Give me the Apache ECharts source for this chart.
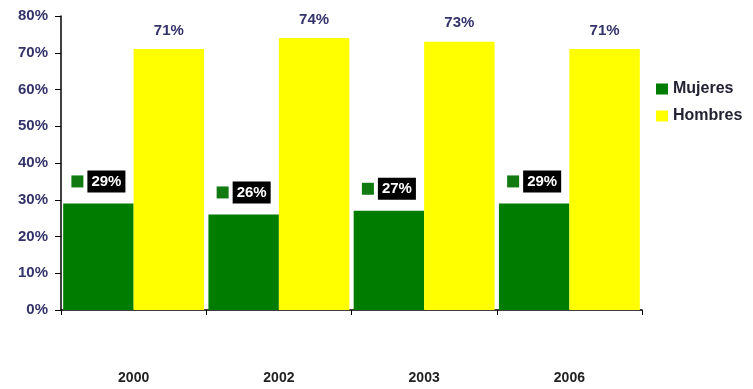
<!DOCTYPE html>
<html>
<head>
<meta charset="utf-8">
<script src="https://cdn.jsdelivr.net/npm/echarts@6/dist/echarts.min.js"></script>
<style>
  html, body { margin: 0; padding: 0; background: #fff; }
  #chart { width: 753px; height: 389px; }
</style>
</head>
<body>
<div id="chart"></div>
<script>
const years = ["2000", "2002", "2003", "2006"];
const mujeres = [29, 26, 27, 29];
const hombres = [71, 74, 73, 71];
const yTicks = [0, 10, 20, 30, 40, 50, 60, 70, 80];

const GREEN = "#007d00";
const YELLOW = "#ffff00";
const NAVY = "#33336b";
const font = "'Liberation Sans', Arial, sans-serif";

const chart = echarts.init(document.getElementById("chart"));

chart.setOption({
  backgroundColor: "#ffffff",
  animation: false,
  textStyle: { fontFamily: font },
  grid: { left: 61, right: 111, top: 16, bottom: 79 },
  legend: {
    orient: "vertical",
    left: 651,
    top: 76,
    itemWidth: 12,
    itemHeight: 11,
    itemGap: 11,
    icon: "rect",
    textStyle: { fontFamily: font, fontWeight: "bold", fontSize: 16, color: "#222233" },
    data: ["Mujeres", "Hombres"]
  },
  xAxis: {
    type: "category",
    data: years,
    axisLine: { lineStyle: { color: "#000", width: 1.5 } },
    axisTick: { show: true, alignWithLabel: false, length: 5, lineStyle: { color: "#000" } },
    axisLabel: { margin: 61, color: "#222", fontWeight: "bold", fontSize: 14, fontFamily: font }
  },
  yAxis: {
    type: "value",
    min: yTicks[0],
    max: yTicks[yTicks.length - 1],
    interval: 10,
    splitLine: { show: false },
    axisLine: { show: true, lineStyle: { color: "#000", width: 1.5 } },
    axisTick: { show: true, length: 6, lineStyle: { color: "#000" } },
    axisLabel: {
      margin: 13,
      color: NAVY,
      fontWeight: "bold",
      fontSize: 15,
      fontFamily: font,
      formatter: v => v + "%"
    }
  },
  series: [
    {
      name: "Mujeres",
      type: "bar",
      data: mujeres,
      barGap: "0%",
      barCategoryGap: "3%",
      itemStyle: { color: GREEN },
      label: {
        show: true,
        position: "top",
        distance: 11,
        formatter: p => "{key|}{sp|}{box|" + p.value + "%}",
        rich: {
          key: { width: 12, height: 12, backgroundColor: "#117a11" },
          sp: { width: 4, height: 12 },
          box: {
            backgroundColor: "#000",
            color: "#fff",
            fontWeight: "bold",
            fontSize: 15,
            fontFamily: font,
            padding: [4, 4, 3, 4]
          }
        }
      }
    },
    {
      name: "Hombres",
      type: "bar",
      data: hombres,
      itemStyle: { color: YELLOW },
      label: {
        show: true,
        position: "top",
        distance: 11,
        color: NAVY,
        fontWeight: "bold",
        fontSize: 15,
        fontFamily: font,
        formatter: p => p.value + "%"
      }
    }
  ]
});
</script>
</body>
</html>
